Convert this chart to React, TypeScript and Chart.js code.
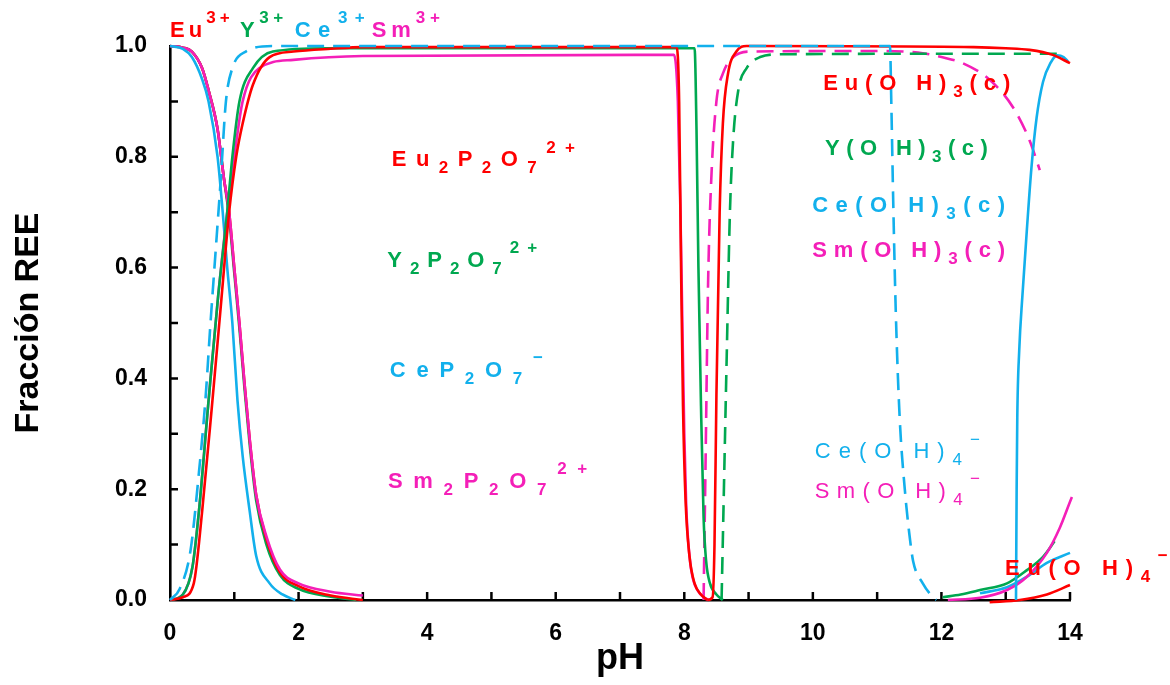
import React, { useEffect, useRef } from "react";
import { Chart, registerables } from "chart.js";

Chart.register(...registerables);

type Pt = [number, number];

// ---------- axis ticks ----------
const X_MAJOR = [0, 2, 4, 6, 8, 10, 12, 14];
const X_MINOR = [1, 2, 3, 4, 5, 6, 7, 8, 9, 10, 11, 12, 13, 14];
const Y_MAJOR = [0, 0.2, 0.4, 0.6, 0.8, 1.0];
const Y_MINOR = [0.1, 0.2, 0.3, 0.4, 0.5, 0.6, 0.7, 0.8, 0.9];

// ---------- series: [pH, fraction] ----------
// free ions M3+
const ce3Plus: Pt[] = [[0, 1.0], [0.2, 0.995], [0.34, 0.98], [0.5, 0.94], [0.6, 0.9], [0.74, 0.8], [0.82, 0.7], [0.89, 0.6], [0.97, 0.5], [1.05, 0.36], [1.13, 0.26], [1.24, 0.16], [1.34, 0.08], [1.55, 0.03], [1.75, 0.01], [1.95, 0.0]];
const eu3Plus: Pt[] = [[0, 1.0], [0.2, 0.997], [0.34, 0.99], [0.5, 0.96], [0.6, 0.92], [0.74, 0.85], [0.84, 0.76], [0.92, 0.7], [1.0, 0.6], [1.08, 0.5], [1.16, 0.39], [1.24, 0.29], [1.34, 0.19], [1.5, 0.11], [1.71, 0.05], [2.0, 0.025], [2.5, 0.008], [3.0, 0.0]];
const y3Plus: Pt[] = [[0, 1.0], [0.2, 0.997], [0.34, 0.99], [0.5, 0.96], [0.6, 0.92], [0.74, 0.85], [0.84, 0.76], [0.92, 0.69], [1.0, 0.59], [1.08, 0.49], [1.16, 0.38], [1.24, 0.28], [1.34, 0.18], [1.5, 0.1], [1.71, 0.045], [2.0, 0.02], [2.5, 0.006], [2.9, 0.0]];
const sm3Plus: Pt[] = [[0, 1.0], [0.2, 0.997], [0.34, 0.99], [0.5, 0.96], [0.6, 0.92], [0.74, 0.85], [0.84, 0.76], [0.92, 0.7], [1.0, 0.6], [1.08, 0.5], [1.16, 0.39], [1.24, 0.29], [1.34, 0.19], [1.5, 0.115], [1.71, 0.055], [2.0, 0.03], [2.5, 0.015], [3.0, 0.008]];

// pyrophosphate complexes
const eu2P2O7: Pt[] = [[0, 0.0], [0.2, 0.005], [0.37, 0.03], [0.5, 0.16], [0.66, 0.36], [0.79, 0.53], [0.92, 0.7], [1.03, 0.8], [1.13, 0.86], [1.29, 0.93], [1.55, 0.98], [1.92, 0.99], [2.5, 0.995], [3.0, 0.998], [7.88, 0.998], [7.92, 0.9], [7.95, 0.6], [7.98, 0.35], [8.02, 0.18], [8.08, 0.08], [8.16, 0.03], [8.26, 0.01], [8.36, 0.0]];
const y2P2O7: Pt[] = [[0, 0.0], [0.2, 0.01], [0.35, 0.06], [0.45, 0.16], [0.6, 0.36], [0.75, 0.55], [0.89, 0.7], [0.97, 0.8], [1.08, 0.9], [1.29, 0.96], [1.6, 0.99], [2.45, 0.996], [8.16, 0.996], [8.19, 0.85], [8.22, 0.6], [8.26, 0.35], [8.3, 0.15], [8.34, 0.07], [8.4, 0.03], [8.5, 0.01], [8.6, 0.0]];
const sm2P2O7: Pt[] = [[0, 0.0], [0.2, 0.01], [0.35, 0.06], [0.45, 0.16], [0.6, 0.36], [0.75, 0.55], [0.89, 0.7], [1.0, 0.8], [1.13, 0.9], [1.39, 0.96], [1.92, 0.975], [3.0, 0.982], [7.84, 0.984], [7.9, 0.9], [7.94, 0.7], [7.97, 0.5], [8.0, 0.3], [8.03, 0.17], [8.08, 0.08], [8.13, 0.04], [8.22, 0.015], [8.3, 0.005], [8.39, 0.0]];
const ceP2O7: Pt[] = [[0, 0.0], [0.15, 0.02], [0.32, 0.09], [0.45, 0.23], [0.55, 0.36], [0.63, 0.5], [0.71, 0.63], [0.79, 0.76], [0.87, 0.9], [0.97, 0.96], [1.18, 0.99], [1.6, 1.0], [11.2, 1.0], [11.22, 0.9], [11.25, 0.72], [11.29, 0.52], [11.35, 0.33], [11.43, 0.2], [11.5, 0.12], [11.56, 0.07], [11.71, 0.03], [11.87, 0.005], [11.92, 0.0]];

// hydroxide solids
const euOH3: Pt[] = [[8.36, 0.0], [8.44, 0.005], [8.47, 0.1], [8.5, 0.37], [8.55, 0.7], [8.6, 0.86], [8.68, 0.95], [8.81, 0.99], [8.97, 1.0], [12.5, 0.998], [13.0, 0.996], [13.37, 0.993], [13.73, 0.984], [14.0, 0.969]];
const yOH3: Pt[] = [[8.58, 0.0], [8.6, 0.11], [8.66, 0.44], [8.71, 0.7], [8.76, 0.83], [8.84, 0.92], [8.97, 0.96], [9.18, 0.98], [9.5, 0.985], [12.0, 0.986], [13.9, 0.986]];
const smOH3: Pt[] = [[8.3, 0.0], [8.33, 0.24], [8.37, 0.57], [8.42, 0.76], [8.5, 0.9], [8.6, 0.95], [8.76, 0.98], [9.03, 0.99], [11.04, 0.991], [11.4, 0.99], [11.71, 0.987], [12.0, 0.98], [12.33, 0.969], [12.75, 0.939], [13.11, 0.89], [13.37, 0.83], [13.53, 0.776]];

// hydroxo anions
const ceOH4: Pt[] = [[13.16, 0.0], [13.17, 0.2], [13.18, 0.33], [13.21, 0.45], [13.26, 0.55], [13.33, 0.67], [13.4, 0.78], [13.48, 0.87], [13.58, 0.935], [13.7, 0.97], [13.8, 0.983], [13.9, 0.98], [13.97, 0.972]];
const ceOH4Low: Pt[] = [[12.6, 0.012], [13.02, 0.023], [13.33, 0.042], [13.64, 0.067], [14.0, 0.085]];
const yOH4: Pt[] = [[12.02, 0.005], [12.3, 0.01], [12.6, 0.018], [13.02, 0.03], [13.33, 0.054], [13.58, 0.078], [13.76, 0.106]];
const smOH4: Pt[] = [[12.1, 0.0], [12.6, 0.004], [13.02, 0.018], [13.33, 0.042], [13.64, 0.085], [13.84, 0.13], [14.03, 0.186], [14.15, 0.217]];
const euOH4: Pt[] = [[12.75, -0.004], [13.22, 0.0], [13.64, 0.01], [14.0, 0.027]];

// ---------- styles ----------
const RED = "#FF0000";
const GREEN = "#00A850";
const CYAN = "#12B0EC";
const PINK = "#F41FB8";

type Series = { data: Pt[]; color: string; dashed: boolean; order: number };
const SERIES: Series[] = [
  { data: ceP2O7, color: CYAN, dashed: true, order: 0 },
  { data: euOH3, color: RED, dashed: false, order: 1 },
  { data: eu2P2O7, color: RED, dashed: false, order: 2 },
  { data: y2P2O7, color: GREEN, dashed: false, order: 3 },
  { data: sm2P2O7, color: PINK, dashed: false, order: 4 },
  { data: yOH3, color: GREEN, dashed: true, order: 5 },
  { data: smOH3, color: PINK, dashed: true, order: 6 },
  { data: ceOH4, color: CYAN, dashed: false, order: 1 },
  { data: ce3Plus, color: CYAN, dashed: false, order: 7 },
  { data: sm3Plus, color: PINK, dashed: false, order: 8 },
  { data: eu3Plus, color: RED, dashed: false, order: 9 },
  { data: y3Plus, color: GREEN, dashed: false, order: 10 },
  { data: smOH4, color: PINK, dashed: false, order: 11 },
  { data: yOH4, color: GREEN, dashed: false, order: 12 },
  { data: ceOH4Low, color: CYAN, dashed: false, order: 13 },
  { data: euOH4, color: RED, dashed: false, order: 14 },
];

// ---------- species labels ----------
type Part = [string, "n" | "sub" | "sup"];
type Label = { parts: Part[]; x0: number; x1: number; y: number; color: string; bold: boolean };
const LABELS: Label[] = [
  { parts: [["Eu", "n"], ["3+", "sup"]], x0: 0.0, x1: 0.93, y: 1.016, color: RED, bold: true },
  { parts: [["Y", "n"], ["3+", "sup"]], x0: 1.09, x1: 1.76, y: 1.016, color: GREEN, bold: true },
  { parts: [["Ce", "n"], ["3+", "sup"]], x0: 1.94, x1: 3.03, y: 1.016, color: CYAN, bold: true },
  { parts: [["Sm", "n"], ["3+", "sup"]], x0: 3.14, x1: 4.2, y: 1.016, color: PINK, bold: true },
  { parts: [["Eu", "n"], ["2", "sub"], ["P", "n"], ["2", "sub"], ["O", "n"], ["7", "sub"], ["2+", "sup"]], x0: 3.45, x1: 6.3, y: 0.783, color: RED, bold: true },
  { parts: [["Y", "n"], ["2", "sub"], ["P", "n"], ["2", "sub"], ["O", "n"], ["7", "sub"], ["2+", "sup"]], x0: 3.38, x1: 5.71, y: 0.601, color: GREEN, bold: true },
  { parts: [["CeP", "n"], ["2", "sub"], ["O", "n"], ["7", "sub"], ["\u2212", "sup"]], x0: 3.42, x1: 5.8, y: 0.4025, color: CYAN, bold: true },
  { parts: [["Sm", "n"], ["2", "sub"], ["P", "n"], ["2", "sub"], ["O", "n"], ["7", "sub"], ["2+", "sup"]], x0: 3.39, x1: 6.49, y: 0.202, color: PINK, bold: true },
  { parts: [["Eu(O H)", "n"], ["3", "sub"], ["(c)", "n"]], x0: 10.16, x1: 13.07, y: 0.9206, color: RED, bold: true },
  { parts: [["Y(O H)", "n"], ["3", "sub"], ["(c)", "n"]], x0: 10.19, x1: 12.72, y: 0.803, color: GREEN, bold: true },
  { parts: [["Ce(O H)", "n"], ["3", "sub"], ["(c)", "n"]], x0: 9.99, x1: 12.99, y: 0.7, color: CYAN, bold: true },
  { parts: [["Sm(O H)", "n"], ["3", "sub"], ["(c)", "n"]], x0: 9.99, x1: 12.99, y: 0.619, color: PINK, bold: true },
  { parts: [["Ce(O H)", "n"], ["4", "sub"], ["\u2212", "sup"]], x0: 10.03, x1: 12.6, y: 0.256, color: CYAN, bold: false },
  { parts: [["Sm(O H)", "n"], ["4", "sub"], ["\u2212", "sup"]], x0: 10.03, x1: 12.6, y: 0.184, color: PINK, bold: false },
  { parts: [["Eu(O H)", "n"], ["4", "sub"], ["\u2212", "sup"]], x0: 12.99, x1: 15.52, y: 0.045, color: RED, bold: true },
];

const FONT = "Arial, 'Liberation Sans', sans-serif";
const LABEL_SIZE = 22;

const minorTicks = {
  id: "minorTicks",
  beforeDatasetsDraw(chart: any) {
    const { ctx, chartArea } = chart;
    const xs = chart.scales.x;
    const ys = chart.scales.y;
    ctx.save();
    ctx.strokeStyle = "#000";
    ctx.lineWidth = 2.5;
    ctx.beginPath();
    for (const v of X_MINOR) {
      const px = xs.getPixelForValue(v);
      ctx.moveTo(px, chartArea.bottom);
      ctx.lineTo(px, chartArea.bottom - 8);
    }
    for (const v of Y_MINOR) {
      const py = ys.getPixelForValue(v);
      ctx.moveTo(chartArea.left, py);
      ctx.lineTo(chartArea.left + 8, py);
    }
    ctx.stroke();
    ctx.restore();
  },
};

const speciesLabels = {
  id: "speciesLabels",
  afterDatasetsDraw(chart: any) {
    const { ctx } = chart;
    const xs = chart.scales.x;
    const ys = chart.scales.y;
    ctx.save();
    ctx.textBaseline = "alphabetic";
    ctx.textAlign = "left";
    for (const lab of LABELS) {
      const weight = lab.bold ? "bold " : "";
      const chars: { ch: string; font: string; dy: number; w: number }[] = [];
      for (const [text, kind] of lab.parts) {
        const size = kind === "n" ? LABEL_SIZE : Math.round(LABEL_SIZE * 0.76);
        const font = `${weight}${size}px ${FONT}`;
        const dy = kind === "sub" ? LABEL_SIZE * 0.32 : kind === "sup" ? -LABEL_SIZE * 0.62 : 0;
        ctx.font = font;
        for (const ch of text) chars.push({ ch, font, dy, w: ctx.measureText(ch).width });
      }
      const x0 = xs.getPixelForValue(lab.x0);
      const x1 = xs.getPixelForValue(lab.x1);
      const base = ys.getPixelForValue(lab.y);
      const natural = chars.reduce((s, c) => s + c.w, 0);
      const gap = chars.length > 1 ? Math.max(0, (x1 - x0 - natural) / (chars.length - 1)) : 0;
      let cx = x0;
      ctx.fillStyle = lab.color;
      for (const c of chars) {
        ctx.font = c.font;
        if (c.ch !== " ") ctx.fillText(c.ch, cx, base + c.dy);
        cx += c.w + gap;
      }
    }
    ctx.restore();
  },
};

export default function App() {
  const ref = useRef<HTMLCanvasElement | null>(null);
  useEffect(() => {
    document.body.style.margin = "0";
    const canvas = ref.current;
    if (!canvas) return;
    const chart = new Chart(canvas, {
      type: "line",
      data: {
        datasets: SERIES.map((s) => ({
          data: s.data.map(([x, y]) => ({ x, y })),
          borderColor: s.color,
          backgroundColor: s.color,
          borderWidth: 2.6,
          borderDash: s.dashed ? [17, 9] : [],
          pointRadius: 0,
          fill: false,
          cubicInterpolationMode: "monotone" as const,
          clip: false as any,
          order: s.order,
        })),
      },
      options: {
        responsive: false,
        animation: false,
        events: [],
        layout: { padding: { left: 0, right: 100, top: 46, bottom: 0 } },
        plugins: { legend: { display: false }, tooltip: { enabled: false } },
        scales: {
          x: {
            type: "linear",
            min: 0,
            max: 14,
            afterBuildTicks: (s: any) => {
              s.ticks = X_MAJOR.map((v) => ({ value: v }));
            },
            afterFit: (s: any) => {
              s.height = 85;
            },
            grid: { display: false },
            border: { display: true, color: "#000", width: 2.6 },
            ticks: {
              color: "#000",
              font: { family: FONT, size: 23, weight: "bold" },
              padding: 12,
              maxRotation: 0,
              autoSkip: false,
              callback: (v: any) => String(v),
            },
            title: {
              display: true,
              text: "pH",
              color: "#000",
              font: { family: FONT, size: 36, weight: "bold" },
              padding: { top: 0, bottom: 4 },
            },
          },
          y: {
            type: "linear",
            min: 0,
            max: 1,
            afterBuildTicks: (s: any) => {
              s.ticks = Y_MAJOR.map((v) => ({ value: v }));
            },
            afterFit: (s: any) => {
              s.width = 170;
            },
            grid: { display: false },
            border: { display: true, color: "#000", width: 2.6 },
            ticks: {
              color: "#000",
              font: { family: FONT, size: 23, weight: "bold" },
              padding: 15,
              autoSkip: false,
              callback: (v: any) => Number(v).toFixed(1),
            },
            title: {
              display: true,
              text: "Fracción REE",
              color: "#000",
              font: { family: FONT, size: 34, weight: "bold" },
              padding: { top: 8, bottom: 0 },
            },
          },
        },
      },
      plugins: [minorTicks, speciesLabels],
    });
    return () => chart.destroy();
  }, []);
  return (
    <div style={{ width: 1170, height: 685, background: "#fff" }}>
      <canvas ref={ref} width={1170} height={685} style={{ display: "block" }} />
    </div>
  );
}
